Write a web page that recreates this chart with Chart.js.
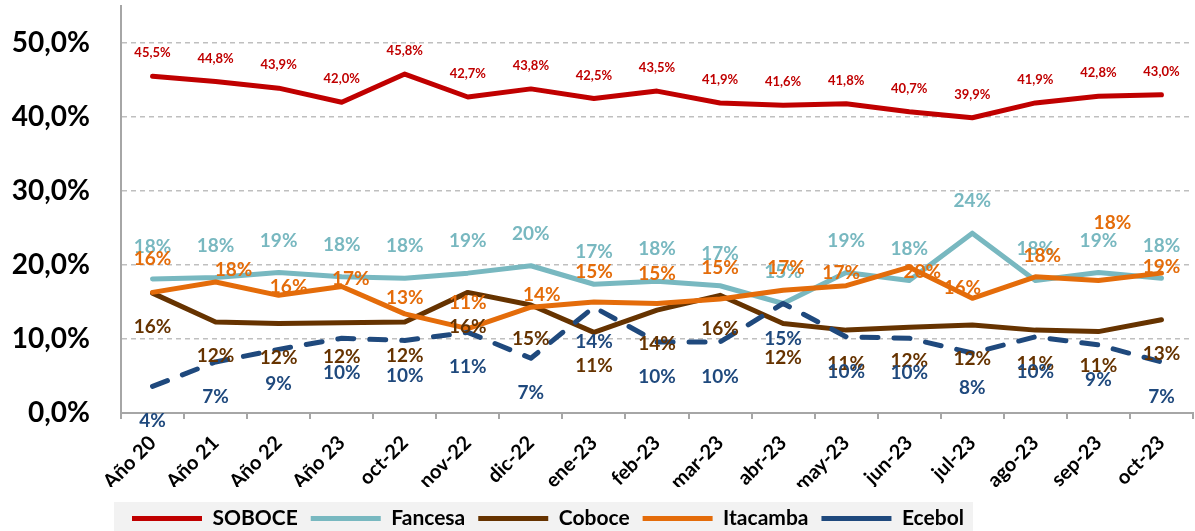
<!DOCTYPE html>
<html lang="es">
<head>
  <meta charset="UTF-8" />
  <title>Participación de mercado - cemento</title>
  <script src="https://cdn.jsdelivr.net/npm/chart.js"></script>
  <style>
    html, body { margin: 0; padding: 0; background: #fff; }
  </style>
</head>
<body>
  <canvas id="shareChart" width="1195" height="531"></canvas>

  <script>
    // Datos (en %)
    const periods = ['Año 20', 'Año 21', 'Año 22', 'Año 23', 'oct-22', 'nov-22', 'dic-22', 'ene-23', 'feb-23',
      'mar-23', 'abr-23', 'may-23', 'jun-23', 'jul-23', 'ago-23', 'sep-23', 'oct-23'];
    const soboce = [45.5, 44.8, 43.9, 42.0, 45.8, 42.7, 43.8, 42.5, 43.5, 41.9, 41.6, 41.8, 40.7, 39.9, 41.9, 42.8, 43.0];
    const fancesa = [18.1, 18.3, 19.0, 18.4, 18.2, 18.9, 19.9, 17.4, 17.8, 17.2, 14.8, 19.0, 17.9, 24.3, 17.9, 19.0, 18.2];
    const coboce = [16.2, 12.3, 12.1, 12.2, 12.3, 16.3, 14.6, 10.9, 13.9, 15.9, 12.1, 11.2, 11.6, 11.9, 11.2, 11.0, 12.6];
    const itacamba = [16.3, 17.7, 15.9, 17.1, 13.4, 11.4, 14.3, 15.0, 14.8, 15.4, 16.6, 17.2, 19.7, 15.5, 18.4, 17.9, 18.9];
    const ecebol = [3.6, 6.9, 8.6, 10.1, 9.8, 10.9, 7.4, 14.3, 9.6, 9.6, 14.8, 10.3, 10.1, 8.1, 10.3, 9.2, 6.9];
    const yTicks = [0, 10, 20, 30, 40, 50];

    // desplazamiento de etiquetas (px) por serie; Itacamba va punto a punto
    const labelDy = [-23, -32, 34, null, 35];
    const itacambaDx = [0, 18, 10, 9, 0, 0, 11, 0, 0, 0, 3, -5, 13, -10, 7, 14, 0];
    const itacambaDy = [-34, -12, -8, -8, -16, -26, -12, -30, -30, -31, -22, -13, 5, -10, -21, -58, -6];

    const FONT = 'Lato, "Open Sans", sans-serif';
    const AXIS_Y = 413;   // línea del eje x
    const pct1 = v => v.toFixed(1).replace('.', ',') + '%';
    const pct0 = v => Math.round(v) + '%';

    const pointLabels = {
      id: 'pointLabels',
      afterDatasetsDraw(chart) {
        const ctx = chart.ctx;
        chart.data.datasets.forEach((ds, i) => {
          const meta = chart.getDatasetMeta(i);
          ctx.save();
          ctx.font = (i === 0 ? 'bold 13px ' : 'bold 19px ') + FONT;
          ctx.fillStyle = ds.borderColor;
          ctx.textAlign = 'center';
          ctx.textBaseline = 'middle';
          meta.data.forEach((pt, j) => {
            const dx = i === 3 ? itacambaDx[j] : 0;
            const dy = i === 3 ? itacambaDy[j] : labelDy[i];
            const txt = i === 0 ? pct1(ds.data[j]) : pct0(ds.data[j]);
            ctx.fillText(txt, pt.x + dx, pt.y + dy);
          });
          ctx.restore();
        });
      }
    };

    // leyenda: fondo gris, empieza en x=132
    const legendBox = {
      id: 'legendBox',
      afterLayout(chart) {
        const lg = chart.legend;
        const pad = lg.options.labels.padding;
        lg.left = 132 - pad;
        lg.top = 495;
        lg.bottom = chart.height;
      },
      beforeDraw(chart) {
        const lg = chart.legend;
        if (!lg || !lg.legendHitBoxes || !lg.legendHitBoxes.length) return;
        const boxes = lg.legendHitBoxes;
        const x0 = Math.min(...boxes.map(b => b.left)) - 18;
        const x1 = Math.max(...boxes.map(b => b.left + b.width)) + 9;
        const ctx = chart.ctx;
        ctx.save();
        ctx.fillStyle = '#F2F2F2';
        ctx.fillRect(x0, 502, x1 - x0, chart.height - 502);
        ctx.restore();
      }
    };

    const series = (label, data, color, order, extra) => Object.assign({
      label, data, order,
      borderColor: color,
      backgroundColor: color,
      borderWidth: 5,
      borderCapStyle: 'round',
      borderJoinStyle: 'round',
      pointRadius: 0,
      tension: 0,
      fill: false
    }, extra || {});

    new Chart(document.getElementById('shareChart'), {
      type: 'line',
      data: {
        labels: periods,
        datasets: [
          series('SOBOCE', soboce, '#C00000', 5),
          series('Fancesa', fancesa, '#78B8C0', 4),
          series('Coboce', coboce, '#663300', 3),
          series('Itacamba', itacamba, '#E46C0A', 2),
          series('Ecebol', ecebol, '#1F497D', 1, { borderDash: [16, 16] })
        ]
      },
      options: {
        responsive: false,
        animation: false,
        events: [],
        layout: { padding: { left: 0, right: 2, top: 6, bottom: 0 } },
        plugins: {
          tooltip: { enabled: false },
          legend: {
            position: 'bottom',
            align: 'start',
            labels: {
              usePointStyle: true,
              pointStyle: 'line',
              pointStyleWidth: 70,
              padding: 13,
              color: '#000',
              font: { family: FONT, size: 21, weight: 'bold' },
              sort: (a, b) => a.datasetIndex - b.datasetIndex
            }
          }
        },
        scales: {
          x: {
            offset: true,
            grid: { offset: true, drawOnChartArea: false, drawTicks: true, tickLength: 6, color: '#A6A6A6', lineWidth: 2 },
            border: { color: '#A6A6A6', width: 2 },
            ticks: {
              autoSkip: false,
              maxRotation: 45,
              minRotation: 45,
              padding: 12,
              color: '#000',
              font: { family: FONT, size: 20, weight: 'bold' }
            },
            afterFit(scale) {
              const lg = scale.chart.legend;
              const lh = lg && lg.height ? lg.height : 40;
              scale.height = scale.chart.height - AXIS_Y - lh;
            }
          },
          y: {
            min: 0,
            max: 55,
            afterBuildTicks(scale) { scale.ticks = yTicks.map(v => ({ value: v })); },
            afterFit(scale) {
              scale.width = 121;
              scale.paddingTop = 0;
              scale.paddingBottom = 0;
            },
            grid: {
              drawTicks: false,
              lineWidth: 1.5,
              color: c => (c.tick && c.tick.value === 0) ? 'rgba(0,0,0,0)' : '#BFBFBF'
            },
            border: { color: '#A6A6A6', width: 2, dash: [5, 4] },
            ticks: {
              padding: 31,
              color: '#000',
              font: { family: FONT, size: 28, weight: 'bold' },
              callback: v => pct1(v)
            }
          }
        }
      },
      plugins: [pointLabels, legendBox]
    });
  </script>
</body>
</html>
